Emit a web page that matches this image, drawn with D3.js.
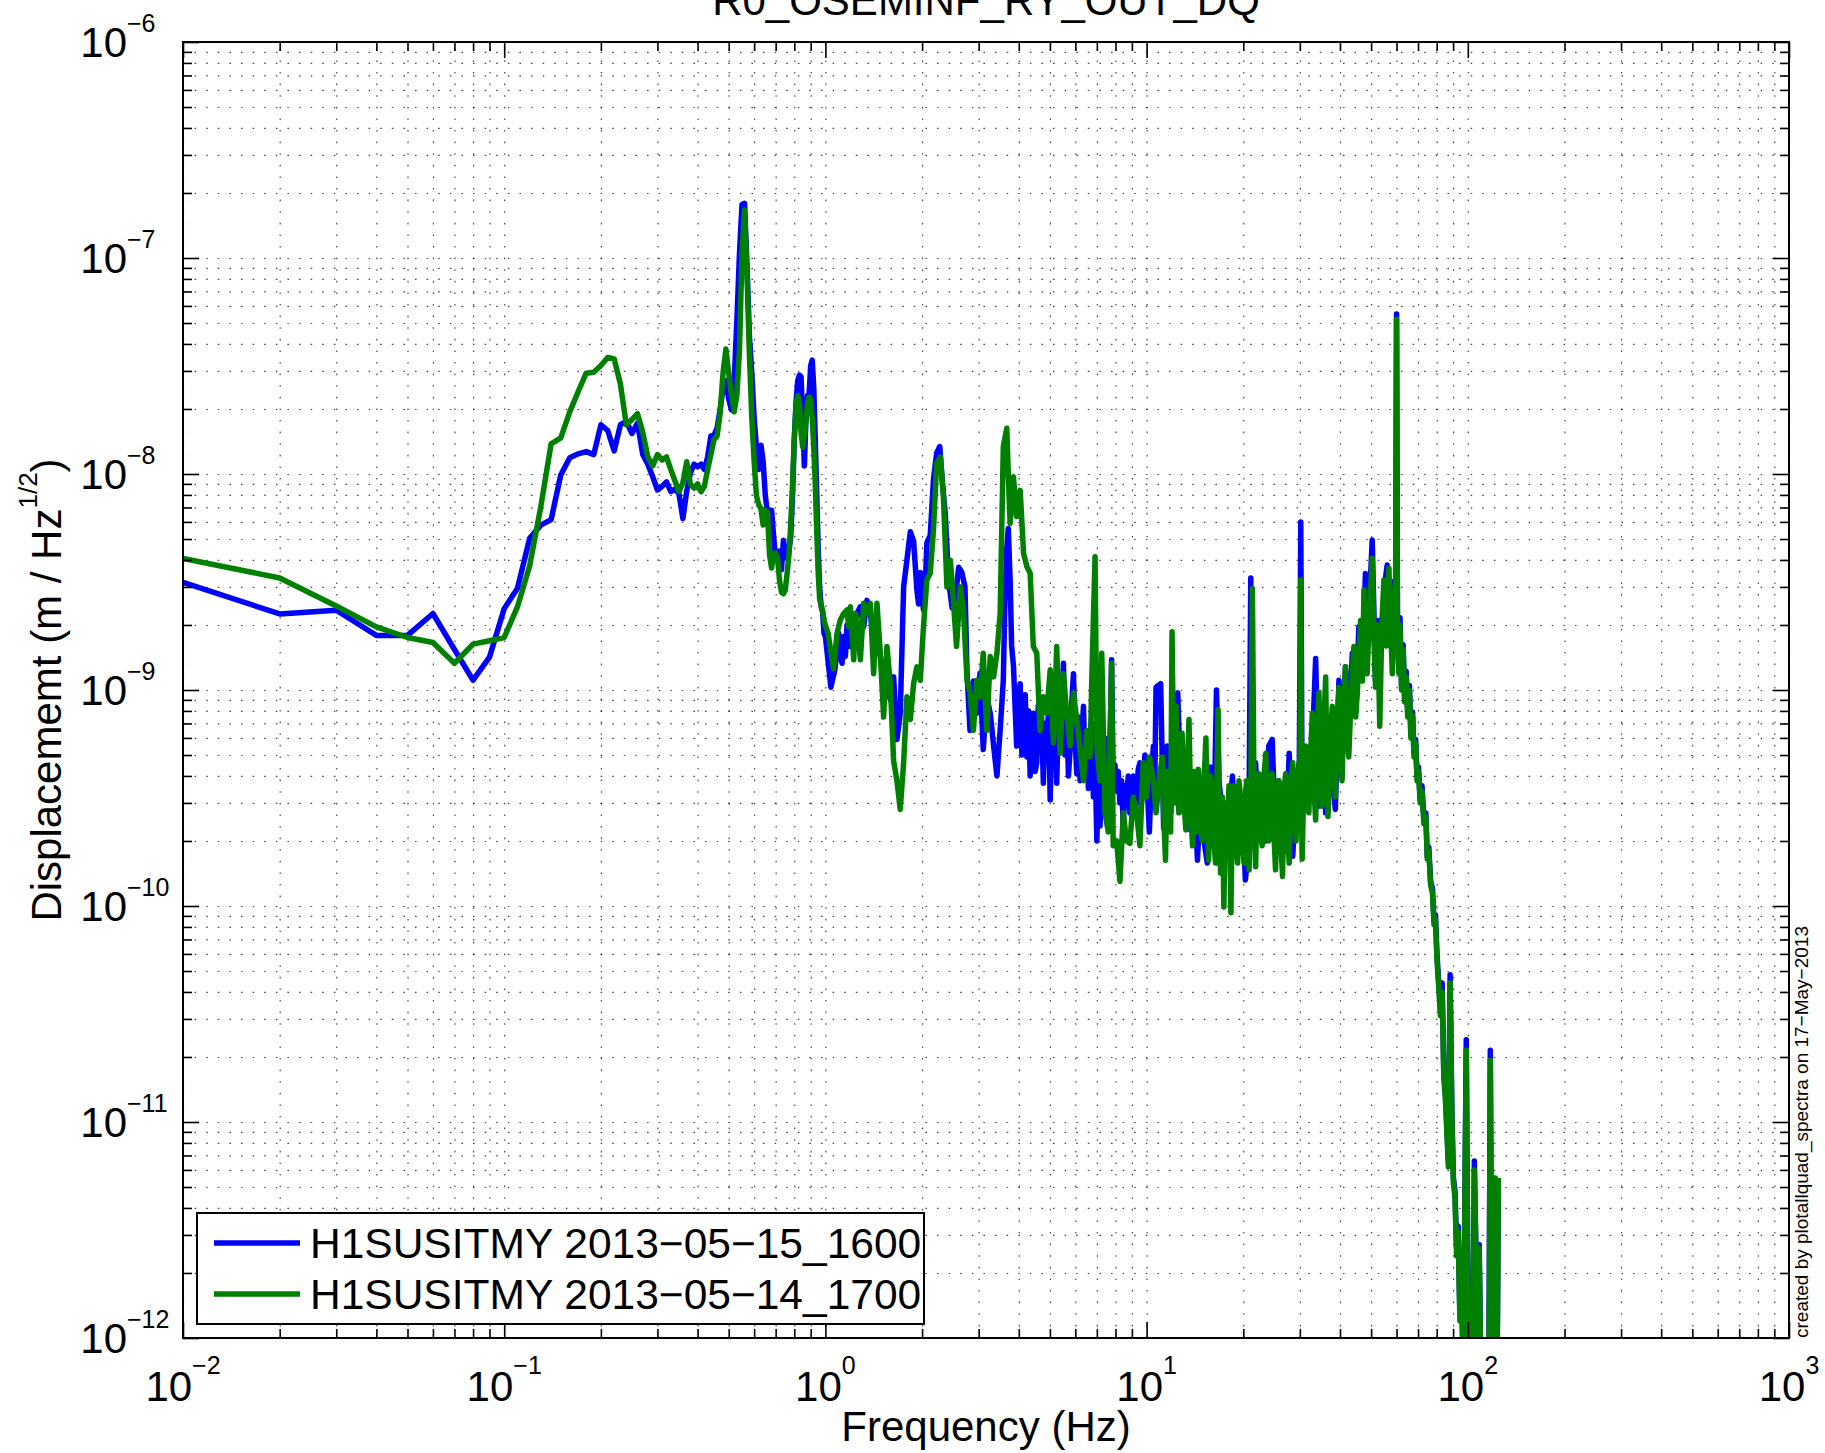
<!DOCTYPE html>
<html>
<head>
<meta charset="utf-8">
<script src="https://cdn.jsdelivr.net/npm/d3@7"></script>
<style>
    body { margin: 0; background: #fff; }
    svg text { font-family: "Liberation Sans", Arial, Helvetica, sans-serif; fill: #000; }
</style>
</head>
<body>
<div id="chart"></div>
<script>
const NM = 1e-9;

// H1SUSITMY 2013-05-15_1600 (blue)
const blueLow = [
    [0.01, 3.15], [0.02, 2.25], [0.03, 2.34], [0.04, 1.79], [0.05, 1.79], [0.06, 2.26], [0.07, 1.54], [0.08, 1.11], [0.09, 1.42], [0.10, 2.38],
    [0.11, 2.96], [0.12, 5.04], [0.13, 5.8], [0.14, 6.15], [0.15, 9.9], [0.16, 11.9], [0.17, 12.4], [0.18, 12.7], [0.19, 12.3], [0.20, 16.9],
    [0.21, 15.9], [0.22, 12.8], [0.23, 16.9], [0.24, 17.5], [0.25, 15.4], [0.26, 17.2], [0.27, 12.3], [0.28, 11.1], [0.29, 9.7], [0.30, 8.43],
    [0.31, 8.77], [0.32, 9.2], [0.33, 8.3], [0.34, 8.5], [0.35, 8.1], [0.36, 6.22], [0.37, 8.3], [0.38, 10.1], [0.39, 11.1], [0.40, 10.8],
    [0.41, 11.1], [0.42, 10.5], [0.43, 12.0], [0.44, 15.0], [0.45, 15.1], [0.46, 16.3], [0.47, 19.8], [0.48, 25.0], [0.49, 27.1], [0.50, 22.2],
    [0.51, 19.8], [0.52, 27.1], [0.53, 51], [0.54, 104], [0.55, 177], [0.56, 179], [0.57, 92.4], [0.58, 43.6], [0.59, 29.3], [0.60, 18.2],
    [0.61, 13.3], [0.62, 10.5], [0.63, 13.6], [0.64, 11.4], [0.65, 7.94], [0.66, 6.65], [0.67, 6.79], [0.68, 6.79], [0.69, 5.14], [0.70, 4.06],
    [0.71, 4.22], [0.72, 4.39], [0.73, 3.6], [0.74, 4.94], [0.75, 4.39], [0.76, 4.06], [0.77, 4.39], [0.78, 5.14], [0.79, 7.94], [0.80, 14.4],
    [0.81, 21.4], [0.82, 27.1], [0.83, 28.7], [0.84, 28.2], [0.85, 17.5], [0.86, 10.9], [0.87, 18.2], [0.88, 23.1], [0.89, 23.6], [0.90, 31.8],
    [0.91, 33.7], [0.92, 25.0], [0.93, 14.4], [0.94, 7.94], [0.95, 4.39], [0.96, 2.96], [0.97, 2.43], [0.98, 2.3], [0.99, 1.83], [1.00, 1.77],
    [1.02, 1.35], [1.04, 1.03]
];
const blueMid = [
    [1.07, 1.24], [1.10, 1.83], [1.113, 1.43], [1.127, 1.33], [1.14, 1.77], [1.154, 1.43], [1.168, 2.0], [1.196, 1.59], [1.225, 1.83], [1.254, 2.26],
    [1.285, 2.43], [1.316, 1.96], [1.347, 2.6], [1.38, 2.26], [1.413, 1.77], [1.447, 1.59], [1.482, 1.43], [1.518, 1.19], [1.555, 1.11], [1.592, 0.90],
    [1.631, 1.15], [1.67, 0.59], [1.71, 0.78], [1.752, 3.0], [1.794, 4.0], [1.838, 5.4], [1.882, 4.9], [1.927, 2.9], [1.95, 2.5], [1.974, 3.5],
    [2.02, 2.35], [2.05, 3.3], [2.07, 4.8], [2.12, 5.2], [2.17, 9.4], [2.22, 12.5], [2.27, 13.4], [2.31, 9.4], [2.36, 6.6], [2.42, 3.2],
    [2.48, 2.4], [2.54, 2.7], [2.60, 3.7], [2.66, 3.5], [2.72, 3.0], [2.76, 1.2], [2.82, 0.65], [2.89, 1.1], [2.96, 0.78], [3.03, 1.2],
    [3.10, 0.53], [3.18, 0.93], [3.26, 0.78], [3.34, 0.55], [3.42, 0.40], [3.50, 0.65], [3.58, 1.11], [3.62, 2.5], [3.67, 4.5], [3.71, 5.6],
    [3.76, 3.2], [3.80, 1.6], [3.85, 1.3], [3.94, 0.55], [3.99, 0.9], [4.04, 1.07], [4.09, 0.5], [4.14, 0.65], [4.19, 0.95], [4.24, 0.49],
    [4.29, 0.8], [4.34, 0.40], [4.39, 0.62], [4.44, 0.78], [4.50, 0.42], [4.55, 0.46], [4.60, 0.85], [4.66, 0.55], [4.71, 0.75], [4.77, 0.37],
    [4.83, 0.7], [4.89, 0.51], [4.95, 0.82], [5.01, 0.31], [5.07, 0.66], [5.13, 0.59], [5.19, 0.85], [5.25, 0.37], [5.31, 0.72], [5.38, 0.55],
    [5.45, 0.9], [5.51, 1.33], [5.57, 0.5], [5.64, 0.78], [5.71, 0.4], [5.78, 0.53], [5.85, 0.88], [5.92, 1.19], [5.99, 0.6], [6.06, 0.41],
    [6.13, 0.75], [6.21, 0.38], [6.28, 0.6], [6.36, 0.84], [6.43, 0.45], [6.51, 0.65], [6.59, 0.35], [6.67, 0.55], [6.75, 0.7], [6.83, 0.32],
    [6.91, 0.5], [7.00, 0.20], [7.08, 0.4], [7.16, 0.235], [7.25, 0.45], [7.33, 0.32], [7.42, 0.6], [7.51, 0.55], [7.65, 0.35], [7.78, 1.38],
    [7.87, 0.38], [7.97, 0.45], [8.07, 0.34], [8.16, 0.42], [8.26, 0.30], [8.36, 0.38], [8.46, 0.23], [8.56, 0.36], [8.66, 0.32], [8.77, 0.4],
    [8.87, 0.27], [8.98, 0.35], [9.09, 0.40], [9.2, 0.26], [9.31, 0.32], [9.42, 0.43], [9.53, 0.46], [9.64, 0.3], [9.76, 0.38], [9.88, 0.5],
    [10.0, 0.47], [10.1, 0.3], [10.2, 0.22], [10.35, 0.4], [10.5, 0.55], [10.6, 0.35], [10.7, 1.03]
];
const blueHigh = [
    [11.06, 1.07], [11.3, 0.23], [11.6, 0.55], [11.9, 0.27], [12.16, 0.78], [12.5, 0.97], [12.76, 0.38], [13.07, 0.27], [13.4, 0.46], [13.7, 0.225],
    [14.05, 0.38], [14.4, 0.163], [14.7, 0.32], [15.1, 0.20], [15.45, 0.158], [15.8, 0.44], [16.2, 0.225], [16.5, 1.0], [16.8, 0.38], [17.2, 0.27],
    [17.6, 0.29], [18.0, 0.217], [18.5, 0.40], [19.0, 0.19], [19.4, 0.33], [19.9, 0.27], [20.3, 0.132], [20.8, 0.19], [21.1, 3.3], [21.3, 0.27],
    [21.85, 0.46], [22.35, 0.225], [22.9, 0.38], [23.5, 0.20], [24.0, 0.55], [24.6, 0.59], [25.2, 0.225], [25.8, 0.38], [26.5, 0.175], [27.1, 0.19],
    [27.8, 0.51], [28.5, 0.17], [29.2, 0.32], [29.8, 0.225], [30.2, 6.0], [30.5, 0.27], [31.3, 0.46], [32.0, 0.32], [32.8, 0.55], [33.6, 1.40],
    [34.4, 0.29], [35.2, 0.78], [36.1, 0.27], [37.0, 0.73], [37.85, 0.38], [38.7, 0.28], [39.7, 1.11], [40.6, 0.55], [41.6, 1.28], [42.6, 0.63],
    [43.7, 1.48], [44.7, 0.78], [45.8, 1.96], [46.9, 1.19], [48.0, 3.46], [49.2, 2.26], [50.4, 4.95], [51.6, 1.11], [52.9, 2.1], [54.1, 1.7],
    [55.0, 3.0], [56.1, 3.79], [57.5, 1.96], [58.9, 3.2], [59.6, 2.2], [60.0, 55], [60.4, 2.0], [61.0, 1.3], [61.5, 2.16], [62.2, 1.05],
    [62.9, 1.62], [63.6, 0.91], [64.3, 1.22], [65.0, 0.79], [65.8, 1.05], [66.5, 0.62], [67.3, 0.79], [68.0, 0.51], [68.8, 0.59], [69.5, 0.40],
    [70.2, 0.44], [71.1, 0.31], [72.0, 0.36], [73.0, 0.25], [74.0, 0.27], [74.8, 0.17], [75.6, 0.187], [76.6, 0.13], [77.6, 0.121], [78.5, 0.085],
    [79.3, 0.091], [80.2, 0.059], [81.2, 0.044], [82.2, 0.033], [83.2, 0.044], [84.2, 0.017], [85.1, 0.014], [86.0, 0.0098], [87.0, 0.0066], [88.1, 0.048],
    [89.2, 0.0112], [90.2, 0.0055], [91.2, 0.0048], [92.3, 0.0026], [93.3, 0.0033], [94.5, 0.0013], [95.5, 0.0023], [96.6, 0.0008], [97.7, 0.003], [98.9, 0.024],
    [100.0, 0.002], [101.2, 0.0009], [102.4, 0.0015], [103.6, 0.0007], [104.8, 0.0066], [106.0, 0.0025], [107.2, 0.0006], [108.5, 0.0027], [109.7, 0.0008], [111.0, 0.0004],
    [112.3, 0.0006], [113.5, 0.0003], [114.9, 0.0006], [116.2, 0.0005], [117.5, 0.0215], [118.9, 0.0008], [120.3, 0.0048], [121.7, 0.0045], [123.1, 0.0005], [124.5, 0.0048]
];

// H1SUSITMY 2013-05-14_1700 (green)
const greenLow = [
    [0.01, 4.07], [0.02, 3.30], [0.03, 2.45], [0.04, 1.96], [0.05, 1.75], [0.06, 1.66], [0.07, 1.33], [0.08, 1.63], [0.09, 1.69], [0.10, 1.75],
    [0.11, 2.43], [0.12, 3.75], [0.13, 7.06], [0.14, 13.8], [0.15, 14.7], [0.16, 19.4], [0.17, 24.1], [0.18, 29.3], [0.19, 29.6], [0.20, 31.8],
    [0.21, 34.6], [0.22, 34.1], [0.23, 26.1], [0.24, 16.9], [0.25, 17.9], [0.26, 19.0], [0.27, 15.6], [0.28, 12.0], [0.29, 10.9], [0.30, 12.3],
    [0.31, 11.6], [0.32, 12.0], [0.33, 10.5], [0.34, 9.3], [0.35, 8.28], [0.36, 9.1], [0.37, 11.4], [0.38, 8.95], [0.39, 8.6], [0.40, 9.0],
    [0.41, 8.28], [0.42, 8.77], [0.43, 10.5], [0.44, 12.3], [0.45, 14.4], [0.46, 15.0], [0.47, 19.0], [0.48, 29.3], [0.49, 37.9], [0.50, 29.3],
    [0.51, 23.1], [0.52, 19.4], [0.53, 23.1], [0.54, 37.2], [0.55, 104], [0.56, 167], [0.57, 85.4], [0.58, 35.7], [0.59, 18.2], [0.60, 11.4],
    [0.61, 7.94], [0.62, 7.2], [0.63, 6.92], [0.64, 5.8], [0.65, 6.79], [0.66, 6.65], [0.67, 4.22], [0.68, 3.67], [0.69, 4.22], [0.70, 4.31],
    [0.71, 4.06], [0.72, 3.2], [0.73, 2.84], [0.74, 2.79], [0.75, 2.9], [0.76, 3.46], [0.77, 4.22], [0.78, 5.8], [0.79, 8.95], [0.80, 14.4],
    [0.81, 20.6], [0.82, 23.1], [0.83, 21.4], [0.84, 15.6], [0.85, 13.3], [0.86, 15.0], [0.87, 17.5], [0.88, 21.4], [0.89, 22.7], [0.90, 22.2],
    [0.91, 18.2], [0.92, 13.3], [0.93, 8.95], [0.94, 5.36], [0.95, 3.46], [0.96, 2.62], [0.97, 2.48], [0.98, 2.33], [0.99, 2.11], [1.00, 1.99],
    [1.02, 1.83], [1.04, 1.5], [1.06, 1.25]
];
const greenMid = [
    [1.087, 1.83], [1.113, 2.11], [1.14, 2.26], [1.168, 2.35], [1.182, 1.96], [1.196, 2.43], [1.225, 1.38], [1.24, 2.26], [1.254, 2.11], [1.285, 1.38],
    [1.316, 2.52], [1.347, 2.26], [1.38, 2.52], [1.413, 1.19], [1.447, 2.52], [1.482, 1.48], [1.518, 0.75], [1.555, 1.59], [1.592, 1.07], [1.631, 0.47],
    [1.67, 0.38], [1.71, 0.28], [1.752, 0.46], [1.794, 0.93], [1.838, 0.73], [1.882, 1.07], [1.927, 1.28], [1.974, 1.11], [2.02, 1.96], [2.07, 3.23],
    [2.12, 3.47], [2.17, 5.51], [2.22, 11.2], [2.28, 12.0], [2.33, 7.85], [2.39, 3.0], [2.45, 3.99], [2.51, 2.43], [2.56, 1.59], [2.63, 3.01],
    [2.69, 2.35], [2.76, 1.11], [2.82, 0.97], [2.89, 0.65], [2.96, 1.11], [3.03, 0.93], [3.10, 1.48], [3.18, 0.65], [3.26, 1.43], [3.34, 1.15],
    [3.42, 1.48], [3.50, 2.26], [3.58, 13.4], [3.67, 16.3], [3.71, 10.0], [3.76, 5.9], [3.85, 9.7], [3.94, 6.35], [4.04, 8.4], [4.14, 4.29],
    [4.24, 3.72], [4.34, 3.47], [4.44, 1.59], [4.55, 1.48], [4.66, 0.65], [4.77, 0.93], [4.89, 0.78], [5.01, 1.24], [5.13, 0.57], [5.25, 1.59],
    [5.38, 0.51], [5.51, 1.19], [5.64, 0.78], [5.78, 0.55], [5.92, 0.97], [6.06, 0.73], [6.21, 0.53], [6.36, 0.38], [6.51, 0.65], [6.67, 0.49],
    [6.75, 1.11], [6.91, 4.14], [7.00, 0.55], [7.16, 0.38], [7.25, 1.48], [7.42, 0.27], [7.60, 0.22], [7.78, 1.33], [7.87, 0.19], [8.07, 0.20],
    [8.26, 0.13], [8.46, 0.27], [8.66, 0.20], [8.87, 0.195], [9.09, 0.32], [9.31, 0.27], [9.53, 0.19], [9.76, 0.46], [10.0, 0.32], [10.2, 0.49],
    [10.5, 0.38], [10.7, 0.27], [11.0, 0.41]
];
const greenHigh = [
    [11.2, 0.49], [11.32, 0.25], [11.45, 0.163], [11.6, 0.42], [11.75, 0.38], [11.88, 0.22], [12.0, 1.86], [12.18, 0.3], [12.35, 0.84], [12.48, 0.35],
    [12.6, 0.27], [12.75, 0.45], [12.9, 0.63], [13.08, 0.3], [13.25, 0.225], [13.4, 0.42], [13.55, 0.73], [13.72, 0.28], [13.9, 0.19], [14.05, 0.42],
    [14.2, 0.38], [14.35, 0.22], [14.5, 0.43], [14.7, 0.28], [14.9, 0.20], [15.1, 0.38], [15.3, 0.6], [15.45, 0.25], [15.6, 0.163], [15.8, 0.4],
    [16.0, 0.36], [16.2, 0.2], [16.4, 0.158], [16.55, 0.35], [16.7, 0.81], [16.85, 0.25], [17.0, 0.142], [17.2, 0.32], [17.4, 0.099], [17.6, 0.3],
    [17.8, 0.225], [18.05, 0.36], [18.3, 0.093], [18.5, 0.3], [18.7, 0.36], [18.95, 0.2], [19.2, 0.158], [19.4, 0.38], [19.6, 0.32], [19.85, 0.2],
    [20.1, 0.158], [20.3, 0.33], [20.5, 0.38], [20.7, 0.2], [20.85, 0.147], [21.1, 0.3], [21.35, 2.95], [21.6, 0.3], [21.85, 0.152], [22.1, 0.35],
    [22.35, 0.41], [22.6, 0.22], [22.9, 0.19], [23.2, 0.4], [23.5, 0.51], [23.75, 0.25], [24.0, 0.20], [24.3, 0.38], [24.6, 0.41], [24.9, 0.22],
    [25.2, 0.147], [25.5, 0.33], [25.8, 0.38], [26.15, 0.2], [26.5, 0.137], [26.8, 0.35], [27.1, 0.41], [27.45, 0.22], [27.8, 0.158], [28.15, 0.38],
    [28.5, 0.46], [28.85, 0.25], [29.2, 0.20], [29.5, 0.38], [29.8, 0.46], [30.0, 0.3], [30.2, 3.23], [30.35, 0.3], [30.5, 0.165], [30.9, 0.4],
    [31.3, 0.55], [31.65, 0.3], [32.0, 0.27], [32.4, 0.5], [32.8, 0.78], [33.2, 0.35], [33.6, 0.25], [34.0, 0.6], [34.4, 0.97], [34.8, 0.4],
    [35.2, 0.29], [35.65, 0.7], [36.1, 1.15], [36.4, 0.45], [36.7, 0.26], [37.3, 0.6], [37.85, 0.84], [38.3, 0.4], [38.7, 0.32], [39.2, 0.7],
    [39.7, 1.03], [40.15, 0.5], [40.6, 0.38], [41.1, 0.8], [41.6, 1.28], [42.1, 0.6], [42.6, 0.49], [43.4, 1.0], [44.2, 1.59], [44.75, 0.75],
    [45.3, 0.97], [45.85, 1.5], [46.4, 2.1], [47.0, 1.1], [47.5, 2.9], [48.0, 1.5], [48.6, 1.19], [49.5, 2.4], [50.4, 4.07], [51.0, 1.8],
    [51.6, 1.03], [52.4, 2.0], [53.2, 0.68], [54.0, 2.0], [54.8, 3.23], [55.8, 1.6], [56.8, 3.66], [57.5, 2.0], [58.2, 1.19], [58.9, 2.4],
    [59.6, 3.23], [60.0, 52], [60.4, 1.8], [61.0, 1.2], [61.5, 2.0], [62.2, 1.0], [62.9, 1.55], [63.6, 0.88], [64.3, 1.15], [65.0, 0.75],
    [65.8, 1.0], [66.5, 0.6], [67.3, 0.76], [68.0, 0.49], [68.8, 0.57], [69.5, 0.38], [70.2, 0.42], [71.1, 0.30], [72.0, 0.34], [73.0, 0.24],
    [74.0, 0.26], [74.8, 0.165], [75.6, 0.18], [76.6, 0.125], [77.6, 0.115], [78.5, 0.082], [79.3, 0.087], [80.2, 0.056], [81.2, 0.042], [82.2, 0.031],
    [83.2, 0.04], [84.2, 0.016], [85.1, 0.013], [86.0, 0.0092], [87.0, 0.0062], [88.1, 0.044], [89.2, 0.0105], [90.2, 0.0052], [91.2, 0.0045], [92.3, 0.0024],
    [93.3, 0.0031], [94.5, 0.0012], [95.5, 0.0021], [96.6, 0.0007], [97.7, 0.0028], [98.9, 0.0215], [100.0, 0.0018], [101.2, 0.0008], [102.4, 0.0014], [103.6, 0.0006],
    [104.8, 0.006], [106.0, 0.0024], [107.2, 0.0005], [108.5, 0.0026], [109.7, 0.0007], [111.0, 0.0004], [112.3, 0.0005], [113.5, 0.0003], [114.9, 0.0005], [116.2, 0.0004],
    [117.5, 0.0193], [118.9, 0.0007], [120.3, 0.0055], [121.7, 0.0055], [123.1, 0.0004], [124.5, 0.0055]
];

const seriesNames = ['H1SUSITMY 2013\u221205\u221215_1600', 'H1SUSITMY 2013\u221205\u221214_1700'];
const seriesColors = ['#0000ff', '#008000'];
const xDecades = [-2, -1, 0, 1, 2, 3];
const yDecades = [-12, -11, -10, -9, -8, -7, -6];

/**
 * Log-log spectra plot (MATLAB style)
 */
class SpectraPlot {

    width; height;
    margin; // [top, bottom, left, right]
    svg; chart;
    scaleX; scaleY;
    innerW; innerH;

    constructor(container, width, height, margin) {
        this.width = width;
        this.height = height;
        this.margin = margin;
        this.innerW = width - margin[2] - margin[3];
        this.innerH = height - margin[0] - margin[1];

        this.svg = d3.select(container)
            .append('svg')
            .attr('width', width).attr('height', height)
            .style('background', '#fff');

        this.chart = this.svg.append('g')
            .attr('transform', `translate(${margin[2]}, ${margin[0]})`);

        this.chart.append('clipPath').attr('id', 'plotClip')
            .append('rect').attr('width', this.innerW).attr('height', this.innerH);

        this.title = this.svg.append('text')
            .attr('x', margin[2] + this.innerW / 2).attr('y', 15)
            .style('text-anchor', 'middle').style('font-size', '42px');
    }

    //--- #updateScales --------------------------------------------------------
    #updateScales() {
        this.scaleX = d3.scaleLog([1e-2, 1e3], [0, this.innerW]);
        this.scaleY = d3.scaleLog([1e-12, 1e-6], [this.innerH, 0]);
    }

    // all 1..9 x 10^k values inside a decade list
    #logValues(decades, minorOnly) {
        let vals = [];
        decades.forEach(e => {
            for (let m = 1; m <= 9; m++) {
                if (minorOnly && m === 1) continue;
                if (e === decades[decades.length - 1] && m > 1) continue;
                vals.push(m * Math.pow(10, e));
            }
        });
        return vals;
    }

    //--- #updateGrid ----------------------------------------------------------
    // dotted grid on every major and minor value
    #updateGrid() {
        let gx = this.chart.append('g')
            .attr('transform', `translate(0,${this.innerH})`)
            .call(d3.axisBottom(this.scaleX)
                .tickValues(this.#logValues(xDecades, false))
                .tickSize(-this.innerH).tickFormat(''));
        let gy = this.chart.append('g')
            .call(d3.axisLeft(this.scaleY)
                .tickValues(this.#logValues(yDecades, false))
                .tickSize(-this.innerW).tickFormat(''));
        [gx, gy].forEach(g => {
            g.select('.domain').remove();
            g.selectAll('.tick line')
                .attr('stroke', '#000')
                .attr('stroke-width', 1.2)
                .attr('stroke-dasharray', '1.6,10')
                .attr('opacity', 0.7);
        });
    }

    //--- #updateLines ---------------------------------------------------------
    #updateLines(series) {
        let lineGen = d3.line()
            .x(d => this.scaleX(d[0]))
            .y(d => this.scaleY(d[1] * NM));
        this.chart.append('g')
            .attr('clip-path', 'url(#plotClip)')
            .selectAll('path')
            .data(series)
            .join('path')
            .attr('fill', 'none')
            .attr('stroke', d => d.color)
            .attr('stroke-width', 5.5)
            .attr('stroke-linejoin', 'round')
            .attr('d', d => lineGen(d.values));
    }

    //--- #updateAxes ----------------------------------------------------------
    // ticks pointing inwards on the four sides, then the box
    #updateAxes() {
        const majX = xDecades.map(e => Math.pow(10, e)),
            minX = this.#logValues(xDecades, true),
            majY = yDecades.map(e => Math.pow(10, e)),
            minY = this.#logValues(yDecades, true);
        const sides = [
            [d3.axisBottom, this.scaleX, `translate(0,${this.innerH})`, majX, minX],
            [d3.axisTop, this.scaleX, 'translate(0,0)', majX, minX],
            [d3.axisLeft, this.scaleY, 'translate(0,0)', majY, minY],
            [d3.axisRight, this.scaleY, `translate(${this.innerW},0)`, majY, minY]
        ];
        sides.forEach(([axisFn, scale, tr, maj, min]) => {
            [[maj, 16], [min, 9]].forEach(([vals, size]) => {
                let g = this.chart.append('g').attr('transform', tr)
                    .call(axisFn(scale).tickValues(vals).tickSize(-size).tickFormat(''));
                g.select('.domain').remove();
                g.selectAll('.tick line').attr('stroke', '#000').attr('stroke-width', 1.6);
            });
        });
        this.chart.append('rect')
            .attr('width', this.innerW).attr('height', this.innerH)
            .attr('fill', 'none').attr('stroke', '#000').attr('stroke-width', 2);

        // tick labels 10^n
        const expText = e => (e < 0 ? '\u2212' : '') + Math.abs(e);
        xDecades.forEach(e => {
            let t = this.chart.append('text')
                .attr('x', this.scaleX(Math.pow(10, e)))
                .attr('y', this.innerH + 63)
                .style('text-anchor', 'middle').style('font-size', '42px');
            t.append('tspan').text('10');
            t.append('tspan').attr('dy', -27).style('font-size', '25px').text(expText(e));
        });
        // y labels : the "10" parts line up, exponents stick out to the right
        yDecades.forEach(e => {
            let y = this.scaleY(Math.pow(10, e));
            this.chart.append('text')
                .attr('x', -56).attr('y', y + 15)
                .style('text-anchor', 'end').style('font-size', '42px')
                .text('10');
            this.chart.append('text')
                .attr('x', -56).attr('y', y - 10)
                .style('font-size', '25px')
                .text(expText(e));
        });
    }

    //--- #updateLegend --------------------------------------------------------
    #updateLegend(series) {
        const legend = this.svg.append('g').attr('transform', 'translate(197,1213)');
        legend.append('rect')
            .attr('width', 727).attr('height', 111)
            .attr('fill', '#fff').attr('stroke', '#000').attr('stroke-width', 2);
        const items = legend.selectAll('.legend-item')
            .data(series)
            .join('g')
            .attr('class', 'legend-item')
            .attr('transform', (d, i) => `translate(0, ${30 + i * 51})`);
        items.append('line')
            .attr('x1', 17).attr('x2', 103)
            .attr('stroke', d => d.color).attr('stroke-width', 5.5);
        items.append('text')
            .attr('x', 113).attr('y', 15)
            .style('font-size', '42.5px')
            .text(d => d.name);
    }

    //--- render ---------------------------------------------------------------
    render(series) {
        this.#updateScales();
        this.#updateGrid();
        this.#updateLines(series);
        this.#updateAxes();
        this.#updateLegend(series);
        return this;
    }

    //--- setTitle -------------------------------------------------------------
    setTitle(title = '') {
        this.title.text(title);
        return this;
    }

    //--- setLabels ------------------------------------------------------------
    setLabels() {
        const cx = this.margin[2] + this.innerW / 2,
            cy = this.margin[0] + this.innerH / 2;
        this.svg.append('text')
            .attr('x', cx).attr('y', 1441)
            .style('text-anchor', 'middle').style('font-size', '42px')
            .text('Frequency (Hz)');
        let yl = this.svg.append('text')
            .attr('transform', `translate(61,${cy}) rotate(-90)`)
            .style('text-anchor', 'middle').style('font-size', '42px');
        yl.append('tspan').text('Displacememt (m / Hz');
        yl.append('tspan').attr('dy', -24).style('font-size', '26px').text('1/2');
        yl.append('tspan').attr('dy', 24).text(')');
        return this;
    }

    //--- setStamp -------------------------------------------------------------
    setStamp(text) {
        this.svg.append('text')
            .attr('transform', `translate(1808,${this.margin[0] + this.innerH}) rotate(-90)`)
            .style('font-size', '19px')
            .text(text);
        return this;
    }
}

const series = [
    { name: seriesNames[0], color: seriesColors[0], values: blueLow.concat(blueMid, blueHigh) },
    { name: seriesNames[1], color: seriesColors[1], values: greenLow.concat(greenMid, greenHigh) }
];

new SpectraPlot('#chart', 1825, 1453, [42, 115, 183, 36])
    .render(series)
    .setTitle('R0_OSEMINF_RY_OUT_DQ')
    .setLabels()
    .setStamp('created by plotallquad_spectra on 17\u2212May\u22122013');
</script>
</body>
</html>
